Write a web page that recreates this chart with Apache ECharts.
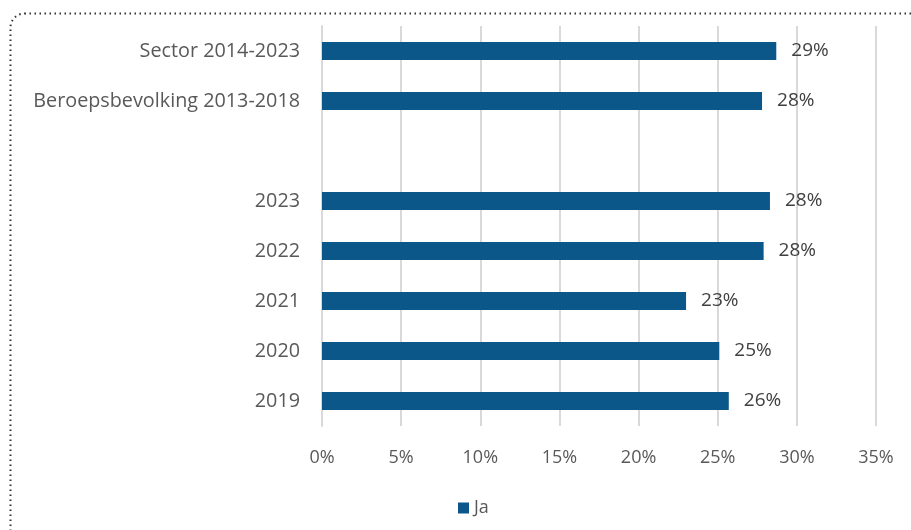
<!DOCTYPE html>
<html><head><meta charset="utf-8">
<script src="https://cdn.jsdelivr.net/npm/echarts@6/dist/echarts.min.js"></script>
<style>html,body{margin:0;padding:0;background:#fff;}#c{width:911px;height:530px;}</style>
</head><body><div id="c"></div>
<script>
var categories = ['2019', '2020', '2021', '2022', '2023', '', 'Beroepsbevolking 2013-2018', 'Sector 2014-2023'];
var values = [25.7, 25.1, 23.0, 27.9, 28.3, null, 27.8, 28.7];
var labels = ['26%', '25%', '23%', '28%', '28%', '', '28%', '29%'];
var xTicks = [0, 5, 10, 15, 20, 25, 30, 35];
var seriesName = 'Ja';

var chart = echarts.init(document.getElementById('c'), null, {renderer: 'canvas'});
var font = 'Open Sans';
chart.setOption({
  animation: false,
  graphic: [{
    type: 'rect', left: 8, top: 11, z: -1,
    shape: {x: 0, y: 0, width: 960, height: 600, r: 14},
    style: {fill: 'none', stroke: '#333', lineWidth: 2, lineDash: [1.5, 3.5]}
  }],
  grid: {left: 322, right: 35, top: 26, bottom: 104, containLabel: false},
  xAxis: {
    type: 'value', min: 0, max: 35, interval: 5,
    axisLine: {show: false}, axisTick: {show: false},
    splitLine: {show: true, lineStyle: {color: '#d9d9d9', width: 2}},
    axisLabel: {formatter: function (v) { return xTicks.indexOf(v) >= 0 ? v + '%' : ''; },
      color: '#595959', fontFamily: font, fontSize: 18, margin: 23}
  },
  yAxis: {
    type: 'category', data: categories,
    axisLine: {show: true, lineStyle: {color: '#d9d9d9', width: 2}},
    axisTick: {show: false},
    axisLabel: {color: '#595959', fontFamily: font, fontSize: 19.8, margin: 22, padding: [3, 0, 0, 0]}
  },
  legend: {
    top: 494, left: 453, itemWidth: 11, itemHeight: 11, itemGap: 5,
    icon: 'rect',
    textStyle: {color: '#595959', fontFamily: font, fontSize: 18, padding: [0, 0, 0, 0]},
    data: [seriesName]
  },
  series: [{
    name: seriesName, type: 'bar', data: values, barWidth: 18,
    itemStyle: {color: '#0B5789'},
    label: {show: true, position: 'right', distance: 15, padding: [3, 0, 0, 0],
      formatter: function (p) { return labels[p.dataIndex]; },
      color: '#404040', fontFamily: font, fontSize: 19}
  }]
});
</script></body></html>
